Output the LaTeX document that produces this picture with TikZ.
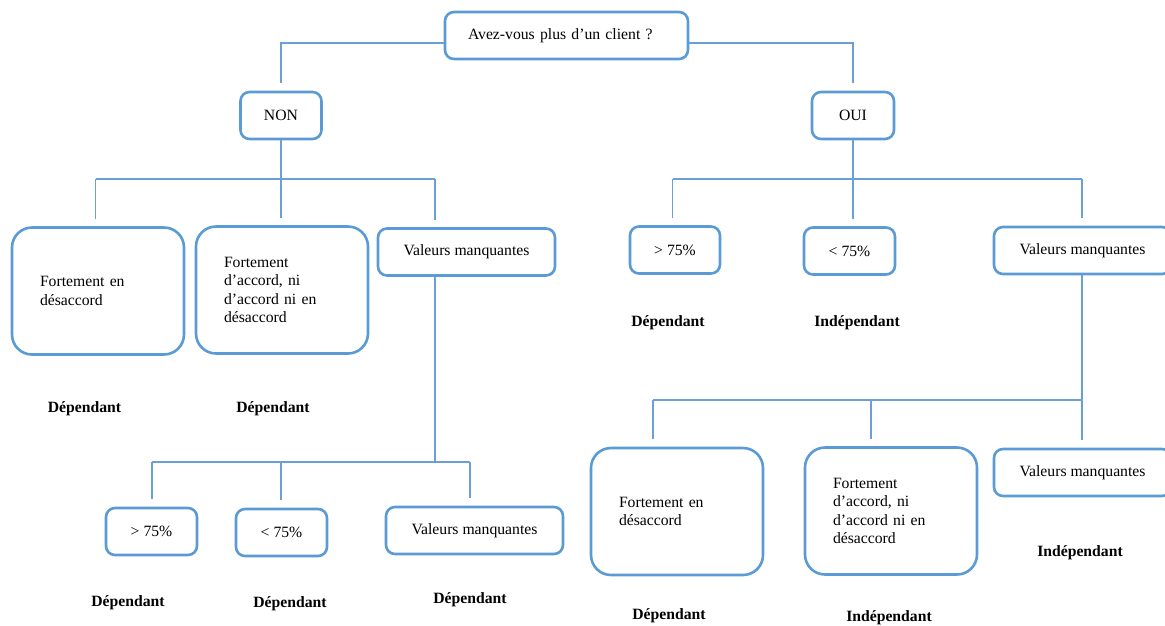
\documentclass[tikz,border=0pt]{standalone}
\usepackage{fontspec}
\setmainfont{Liberation Serif}
\definecolor{boxblue}{HTML}{5B9BD5}
\definecolor{linkblue}{HTML}{6A9FD8}

\begin{document}
\begin{tikzpicture}[x=1pt,y=-1pt,
  every node/.style={font=\fontsize{15.7}{18.6}\selectfont},
  box/.style={draw=boxblue, line width=2.6pt, rounded corners=9pt, fill=white,
    minimum height=47pt, inner sep=0pt, align=center},
  bigbox/.style={draw=boxblue, line width=2.6pt, rounded corners=20pt, fill=white,
    minimum height=127pt, text width=116pt, inner xsep=28pt, inner ysep=0pt, align=left},
  verdict/.style={font=\fontsize{15.7}{18.6}\selectfont\bfseries, inner sep=0pt},
  conn/.style={draw=linkblue, line width=1.3pt},
  drop/.style={conn, shorten >=7.5pt}]

\useasboundingbox (0,0) rectangle (1165,625);

% question at the root
\node[box, text width=197pt, inner xsep=23pt, align=left] (q) at (566.5,35.5) {Avez-vous plus d’un client ?};

% first answers
\node[box, minimum width=81pt] (non) at (281,115.5) {NON};
\node[box, minimum width=82pt] (oui) at (853,115.5) {OUI};

% NON branch
\node[bigbox] (a1) at (98,291) {Fortement en\\désaccord};
\node[bigbox] (a2) at (282,290) {Fortement\\d’accord, ni\\d’accord ni en\\désaccord};
\node[box, minimum width=177pt] (a3) at (466.5,252) {Valeurs manquantes};
\node[verdict] (va1) at (84.5,409) {Dépendant};
\node[verdict] (va2) at (273,409) {Dépendant};

\node[box, minimum width=91pt] (b1) at (151.5,531.5) {> 75\%};
\node[box, minimum width=91pt] (b2) at (281.5,532.5) {< 75\%};
\node[box, minimum width=177pt] (b3) at (474.5,530.5) {Valeurs manquantes};
\node[verdict] (vb1) at (128,603) {Dépendant};
\node[verdict] (vb2) at (290,604) {Dépendant};
\node[verdict] (vb3) at (470,600) {Dépendant};

% OUI branch
\node[box, minimum width=90pt] (c1) at (675,250) {> 75\%};
\node[box, minimum width=91pt] (c2) at (849.5,251) {< 75\%};
\node[box, minimum width=177pt] (c3) at (1082.5,250.5) {Valeurs manquantes};
\node[verdict] (vc1) at (668,323) {Dépendant};
\node[verdict] (vc2) at (857,323) {Indépendant};

\node[bigbox] (d1) at (677,511.5) {Fortement en\\désaccord};
\node[bigbox] (d2) at (891,511) {Fortement\\d’accord, ni\\d’accord ni en\\désaccord};
\node[box, minimum width=177pt] (d3) at (1082.5,472.5) {Valeurs manquantes};
\node[verdict] (vd1) at (669,616) {Dépendant};
\node[verdict] (vd2) at (889,618) {Indépendant};
\node[verdict] (vd3) at (1080,553) {Indépendant};

% bus lines and branch points
\coordinate (qy) at (0,43);
\coordinate (nl) at (95.5,179);   \coordinate (nr) at (435,179);
\coordinate (ol) at (672.5,179);  \coordinate (or) at (1082,179);
\coordinate (ml) at (152,462);    \coordinate (mm) at (281,462);  \coordinate (mr) at (470,462);
\coordinate (pl) at (653,400);    \coordinate (pm) at (871,400);  \coordinate (pr) at (1082,400);

% root to first answers
\draw[conn] (q.west |- qy) -| ([yshift=8pt]non.north);
\draw[conn] (q.east |- qy) -| ([yshift=8pt]oui.north);

% NON to its three answers
\draw[conn] (nl) -- (nr);
\draw[drop] (non.south) -- (non.south |- a2.north);
\draw[drop] (nl) -- (nl |- a1.north);
\draw[drop] (nr) -- (nr |- a3.north);

% missing values (NON) to its three answers
\draw[conn] (a3.south -| nr) -- (nr |- ml);
\draw[conn] (ml) -- (mr);
\draw[drop] (ml) -- (ml |- b1.north);
\draw[drop] (mm) -- (mm |- b2.north);
\draw[drop] (mr) -- (mr |- b3.north);

% OUI to its three answers
\draw[conn] (ol) -- (or);
\draw[drop] (oui.south) -- (oui.south |- c2.north);
\draw[drop] (ol) -- (ol |- c1.north);
\draw[drop] (or) -- (or |- c3.north);

% missing values (OUI) to its three answers
\draw[conn] (c3.south -| pr) -- (pr);
\draw[conn] (pl) -- (pr);
\draw[drop] (pl) -- (pl |- d1.north);
\draw[drop] (pm) -- (pm |- d2.north);
\draw[drop] (pr) -- (pr |- d3.north);
\end{tikzpicture}
\end{document}
